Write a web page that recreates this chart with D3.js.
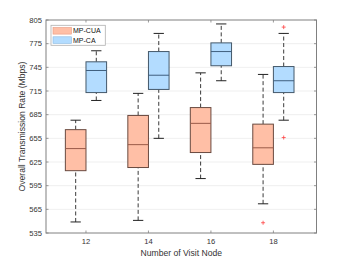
<!DOCTYPE html>
<html>
<head>
<meta charset="utf-8">
<script src="https://cdn.jsdelivr.net/npm/d3@7"></script>
<style>
body { margin: 0; background: #fff; }
text { font-family: "Liberation Sans", Arial, sans-serif; }
</style>
</head>
<body>
<svg id="chart" width="349" height="262"></svg>
<script>
// visit node counts
const nodes = [12, 14, 16, 18];
const yTicks = [535, 565, 595, 625, 655, 685, 715, 745, 775, 805];
const seriesNames = ["MP-CUA", "MP-CA"];

// [lower whisker, q1, median, q3, upper whisker]
const cuaStats = [
	[549, 614, 642, 666, 678],
	[551, 618, 647, 684, 712],
	[604, 637, 674, 694, 738],
	[572, 622, 643, 673, 736]
];
const cuaOutliers = [[], [], [], [548]];

const caStats = [
	[703, 713, 741, 752, 766],
	[655, 717, 735, 765, 788],
	[728, 747, 765, 776, 800],
	[678, 713, 728, 746, 788]
];
const caOutliers = [[], [], [], [796, 656]];

var margin = {left: 46, top: 20, right: 32.5, bottom: 29},
	W = 349, H = 262,
	xLeft = margin.left, xRight = W - margin.right,
	yTop = margin.top, yBottom = H - margin.bottom;

var svg = d3.select("#chart");

var x = d3.scaleLinear().domain([10.72, 19.38]).range([xLeft, xRight]);
var y = d3.scaleLinear().domain([535, 805]).range([yBottom, yTop]);

var offset = 0.33, boxW = x(0.66) - x(0), capW = boxW / 2;

var styles = [
	{fill: "#ffbfa6", stroke: "#6a4a40", median: "#9a5a48"},
	{fill: "#b3dcff", stroke: "#44586a", median: "#3f5f7e"}
];

// grid
svg.append("g")
	.selectAll("line")
	.data(yTicks.slice(1, -1))
	.enter()
	.append("line")
	.attr("x1", xLeft).attr("x2", xRight)
	.attr("y1", d => y(d)).attr("y2", d => y(d))
	.attr("stroke", "#ebebeb")
	.attr("stroke-width", 0.8);

function drawSeries(stats, outliers, dx, st) {
	var g = svg.append("g");
	var item = g.selectAll("g")
		.data(stats)
		.enter()
		.append("g")
		.attr("transform", (d, i) => "translate(" + x(nodes[i] + dx) + ",0)");

	// whiskers
	item.append("line")
		.attr("y1", d => y(d[0])).attr("y2", d => y(d[1]))
		.attr("stroke", "#3a3a3a").attr("stroke-width", 1)
		.attr("stroke-dasharray", "4,2.5");
	item.append("line")
		.attr("y1", d => y(d[3])).attr("y2", d => y(d[4]))
		.attr("stroke", "#3a3a3a").attr("stroke-width", 1)
		.attr("stroke-dasharray", "4,2.5");
	// caps
	[0, 4].forEach(k => {
		item.append("line")
			.attr("x1", -capW / 2).attr("x2", capW / 2)
			.attr("y1", d => y(d[k])).attr("y2", d => y(d[k]))
			.attr("stroke", "#222").attr("stroke-width", 1);
	});
	// box
	item.append("rect")
		.attr("x", -boxW / 2)
		.attr("width", boxW)
		.attr("y", d => y(d[3]))
		.attr("height", d => y(d[1]) - y(d[3]))
		.attr("fill", st.fill)
		.attr("stroke", st.stroke)
		.attr("stroke-width", 1);
	// median
	item.append("line")
		.attr("x1", -boxW / 2).attr("x2", boxW / 2)
		.attr("y1", d => y(d[2])).attr("y2", d => y(d[2]))
		.attr("stroke", st.median).attr("stroke-width", 1);

	// outliers
	var pts = [];
	outliers.forEach((arr, i) => arr.forEach(v => pts.push({n: nodes[i], v: v})));
	g.selectAll("path.out")
		.data(pts)
		.enter()
		.append("path")
		.attr("class", "out")
		.attr("d", d => {
			var cx = x(d.n + dx), cy = y(d.v);
			return "M" + (cx - 2) + "," + cy + "H" + (cx + 2) + "M" + cx + "," + (cy - 2) + "V" + (cy + 2);
		})
		.attr("stroke", "#ff4040")
		.attr("stroke-width", 0.8);
}

drawSeries(cuaStats, cuaOutliers, -offset, styles[0]);
drawSeries(caStats, caOutliers, offset, styles[1]);

// axes box
svg.append("rect")
	.attr("x", xLeft).attr("y", yTop)
	.attr("width", xRight - xLeft).attr("height", yBottom - yTop)
	.attr("fill", "none").attr("stroke", "#808080").attr("stroke-width", 1);

var tickLen = 2.5;
var ticksG = svg.append("g").attr("stroke", "#808080").attr("stroke-width", 0.8);
yTicks.forEach(t => {
	ticksG.append("line").attr("x1", xLeft).attr("x2", xLeft + tickLen).attr("y1", y(t)).attr("y2", y(t));
	ticksG.append("line").attr("x1", xRight).attr("x2", xRight - tickLen).attr("y1", y(t)).attr("y2", y(t));
});
nodes.forEach(n => {
	ticksG.append("line").attr("x1", x(n)).attr("x2", x(n)).attr("y1", yBottom).attr("y2", yBottom - tickLen);
	ticksG.append("line").attr("x1", x(n)).attr("x2", x(n)).attr("y1", yTop).attr("y2", yTop + tickLen);
});

// tick labels
svg.append("g")
	.selectAll("text")
	.data(yTicks)
	.enter()
	.append("text")
	.attr("x", xLeft - 4)
	.attr("y", d => y(d))
	.attr("dy", "0.35em")
	.attr("text-anchor", "end")
	.attr("font-size", 7.6)
	.attr("fill", "#333")
	.text(d => d);

svg.append("g")
	.selectAll("text")
	.data(nodes)
	.enter()
	.append("text")
	.attr("x", d => x(d))
	.attr("y", yBottom + 8)
	.attr("dy", "0.35em")
	.attr("text-anchor", "middle")
	.attr("font-size", 7.6)
	.attr("fill", "#333")
	.text(d => d);

// axis labels
svg.append("text")
	.attr("x", (xLeft + xRight) / 2)
	.attr("y", yBottom + 19.5)
	.attr("dy", "0.35em")
	.attr("text-anchor", "middle")
	.attr("font-size", 8.6)
	.attr("fill", "#333")
	.text("Number of Visit Node");

svg.append("text")
	.attr("transform", "translate(22," + ((yTop + yBottom) / 2) + ") rotate(-90)")
	.attr("dy", "0.35em")
	.attr("text-anchor", "middle")
	.attr("font-size", 8.6)
	.attr("fill", "#333")
	.text("Overall Transmission Rate (Mbps)");

// legend
var leg = svg.append("g").attr("transform", "translate(51,25.3)");
leg.append("rect")
	.attr("width", 54.3).attr("height", 20)
	.attr("fill", "#fff").attr("stroke", "#b0b0b0").attr("stroke-width", 0.8);
seriesNames.forEach((name, i) => {
	leg.append("rect")
		.attr("x", 2).attr("y", 2.2 + i * 9.3)
		.attr("width", 18.5).attr("height", 6.6)
		.attr("fill", styles[i].fill)
		.attr("stroke", i == 0 ? "#e89a80" : "#8ab8e0")
		.attr("stroke-width", 0.6);
	leg.append("text")
		.attr("x", 22)
		.attr("y", 5.5 + i * 9.3)
		.attr("dy", "0.35em")
		.attr("font-size", 7)
		.attr("fill", "#111")
		.text(name);
});
</script>
</body>
</html>
